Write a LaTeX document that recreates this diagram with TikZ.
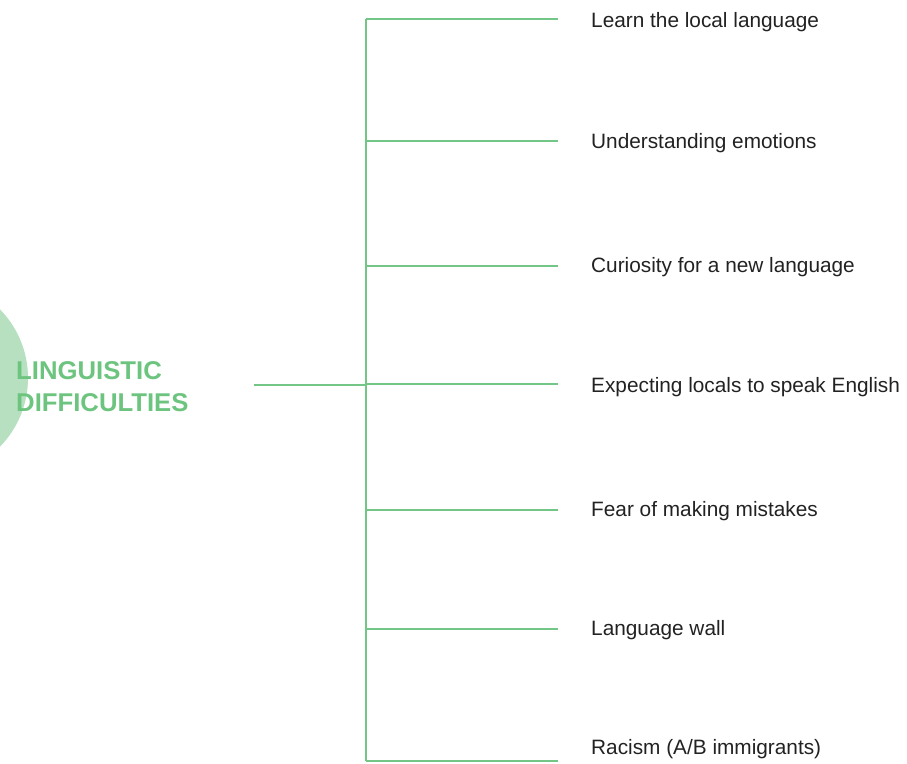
\documentclass[tikz,border=0pt]{standalone}
\usepackage{fontspec}
\setmainfont{Liberation Sans}
\definecolor{linegreen}{HTML}{74C687}
\definecolor{circgreen}{HTML}{B6E0BF}
\definecolor{titlegreen}{HTML}{6CC47F}
\definecolor{txt}{HTML}{222222}
\begin{document}
\begin{tikzpicture}[x=1pt,y=-1pt,
  branch/.style={draw=linegreen,line width=2.2pt},
  leaf/.style={anchor=base west,inner sep=0pt,text=txt,font=\fontsize{20.8}{24}\selectfont},
  title/.style={anchor=north west,inner sep=0pt,align=left,text=titlegreen,font=\fontsize{25.7}{32}\selectfont\bfseries}]
\useasboundingbox (0,0) rectangle (907,763);
\begin{scope}
\clip (0,0) rectangle (907,763);
\fill[circgreen] (-70,378) circle (98);
\end{scope}
\node[title] (t) at (16,361) {LINGUISTIC\\DIFFICULTIES};
\coordinate (root) at (254,385);
\coordinate (top) at (366,19);
\coordinate (bot) at (366,761);
\coordinate (mid) at (366,385);
\draw[branch] (root) -- (mid);
\draw[branch] (top) -- (bot);
\foreach \y/\n in {19/a,141/b,266/c,384/d,510/e,629/f,761/g}{
  \coordinate (s\n) at (366,\y);
  \coordinate (e\n) at (558,\y);
  \draw[branch] (s\n) -- (e\n);
}
\node[leaf] (la) at (591,27.5) {Learn the local language};
\node[leaf] (lb) at (591,148.5) {Understanding emotions};
\node[leaf] (lc) at (591,272.5) {Curiosity for a new language};
\node[leaf] (ld) at (591,392.5) {Expecting locals to speak English};
\node[leaf] (le) at (591,516.5) {Fear of making mistakes};
\node[leaf] (lf) at (591,635.5) {Language wall};
\node[leaf] (lg) at (591,754.5) {Racism (A/B immigrants)};
\end{tikzpicture}
\end{document}
